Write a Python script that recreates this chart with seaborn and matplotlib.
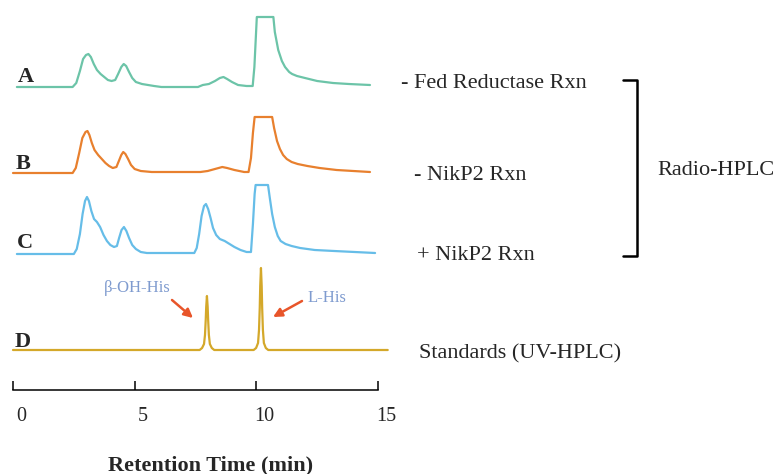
import numpy as np
import pandas as pd
import matplotlib
matplotlib.use('Agg')
import matplotlib.pyplot as plt
import matplotlib.transforms as mtransforms
import seaborn as sns

# retention time (min) and signal (arbitrary units)
time_a = [0.16, 2.45, 2.60, 2.75, 2.88, 3.00, 3.10, 3.20, 3.32, 3.45, 3.60, 3.75, 3.90, 4.05, 4.20,
          4.32, 4.45, 4.55, 4.65, 4.77, 4.90, 5.05, 5.30, 5.80, 6.10, 7.60, 7.80, 8.05, 8.30,
          8.50, 8.65, 8.80, 9.00, 9.25, 9.60, 9.85, 9.92, 9.98, 10.02, 10.70, 10.76, 10.90,
          11.05, 11.18, 11.35, 11.47, 11.67, 12.00, 12.50, 13.15, 13.80, 14.67]
sig_a = [0, 0, 4, 16, 28, 32, 33, 30, 23, 17, 13, 10, 7, 6, 7,
         13, 20, 23, 21, 15, 9, 5, 3, 1, 0, 0, 2, 3, 6,
         9, 10, 8, 5, 2, 1, 1, 20, 50, 70, 70, 55, 37,
         26, 20, 15, 13, 11, 9, 6, 4, 3, 2]

time_b = [0.0, 2.45, 2.58, 2.72, 2.85, 2.98, 3.06, 3.14, 3.24, 3.35, 3.50, 3.65, 3.80, 3.95, 4.10,
          4.25, 4.35, 4.45, 4.53, 4.62, 4.73, 4.85, 5.00, 5.25, 5.70, 7.70, 8.00, 8.30, 8.60,
          8.80, 9.10, 9.50, 9.68, 9.78, 9.86, 9.93, 10.65, 10.73, 10.85, 10.97, 11.10, 11.25,
          11.45, 11.70, 12.10, 12.60, 13.30, 14.67]
sig_b = [0, 0, 5, 20, 35, 41, 42, 38, 30, 23, 18, 14, 10, 7, 5,
         6, 12, 18, 21, 19, 14, 8, 4, 2, 1, 1, 2, 4, 6,
         5, 3, 1, 1, 15, 40, 56, 56, 45, 32, 24, 18, 14,
         11, 9, 7, 5, 3, 1]

time_c = [0.16, 2.50, 2.62, 2.75, 2.86, 2.96, 3.04, 3.12, 3.22, 3.33, 3.45, 3.58, 3.72, 3.86, 4.00,
          4.15, 4.27, 4.36, 4.46, 4.56, 4.66, 4.77, 4.90, 5.05, 5.25, 5.50, 7.45, 7.55, 7.65,
          7.75, 7.85, 7.93, 8.02, 8.12, 8.22, 8.35, 8.50, 8.70, 8.90, 9.10, 9.35, 9.60, 9.78,
          9.86, 9.93, 9.97, 10.48, 10.56, 10.65, 10.76, 10.88, 11.00, 11.20, 11.45, 11.80,
          12.40, 13.20, 14.88]
sig_c = [0, 0, 5, 20, 40, 53, 57, 53, 43, 35, 32, 27, 19, 13, 9,
         7, 8, 16, 24, 27, 23, 16, 9, 5, 2, 1, 1, 6, 20,
         38, 48, 50, 45, 36, 26, 19, 15, 13, 10, 7, 4, 2, 2,
         30, 60, 69, 69, 55, 40, 27, 18, 13, 10, 8, 6,
         4, 3, 1]

time_d = [0.0, 7.67, 7.77, 7.85, 7.89, 7.92, 7.94, 7.97, 8.00, 8.02, 8.05, 8.09, 8.17, 8.27,
          9.89, 9.99, 10.07, 10.11, 10.14, 10.16, 10.19, 10.22, 10.24, 10.27, 10.31, 10.39,
          10.49, 15.40]
sig_d = [0, 0, 2, 6, 15, 30, 43, 54, 43, 30, 15, 6, 2, 0,
         0, 2, 7, 20, 42, 64, 82, 64, 42, 20, 7, 2,
         0, 0]

letters = ['A', 'B', 'C', 'D']
conditions = ['- Fed Reductase Rxn', '- NikP2 Rxn', '+ NikP2 Rxn', 'Standards (UV-HPLC)']
colors = ['#6cc4a8', '#e8802e', '#66bde8', '#d4a82a']
xticks = [0, 5, 10, 15]

W, H = 777, 474


def fig_xy(x, y):
    # pixel position -> figure fraction
    return x / W, 1 - y / H


fig = plt.figure(figsize=(7.77, 4.74), dpi=100)
sns.set_style('white')
plt.rcParams['font.family'] = ['Liberation Serif', 'DejaVu Serif']

ax = fig.add_axes([13 / W, (H - 390) / H, 365 / W, 390 / H])

traces = [(time_a, sig_a), (time_b, sig_b), (time_c, sig_c), (time_d, sig_d)]
baselines = [303, 217, 136, 40]
for (t, s), base, col in zip(traces, baselines, colors):
    df = pd.DataFrame({'time': t, 'signal': np.array(s) + base})
    sns.lineplot(data=df, x='time', y='signal', color=col, lw=1.6, sort=False,
                 estimator=None, ax=ax, clip_on=False)

ax.set_xlim(0, 15)
ax.set_ylim(0, 390)
ax.set_yticks([])
ax.set_xticks(xticks)
ax.set_xticklabels([str(v) for v in xticks], fontsize=14.5)
ax.tick_params(axis='x', direction='in', length=6.5, width=1.1, color='black', pad=12, bottom=True)
offset = mtransforms.ScaledTranslation(8 / 100, 0, fig.dpi_scale_trans)
for lab in ax.get_xticklabels():
    lab.set_transform(lab.get_transform() + offset)
for side in ['top', 'right', 'left']:
    ax.spines[side].set_visible(False)
ax.spines['bottom'].set_linewidth(1.1)
ax.spines['bottom'].set_color('black')
ax.set_xlabel('')
ax.set_ylabel('')

fig.text(*fig_xy(211, 465), 'Retention Time (min)', fontsize=16, fontweight='bold',
         ha='center', va='center')

letter_pos = [(26, 77), (23, 164), (25, 243), (23, 342)]
for lt, (x, y) in zip(letters, letter_pos):
    fig.text(*fig_xy(x, y), lt, fontsize=16, fontweight='bold', ha='center', va='center')

cond_pos = [(401, 84), (414, 175), (417, 255), (419, 354)]
for txt, (x, y) in zip(conditions, cond_pos):
    fig.text(*fig_xy(x, y), txt, fontsize=16, ha='left', va='center')

# bracket for the radio-HPLC traces
bx = [623, 637, 637, 623]
by = [80, 80, 256, 256]
fx, fy = zip(*[fig_xy(x, y) for x, y in zip(bx, by)])
fig.add_artist(plt.Line2D(fx, fy, color='black', lw=1.8, transform=fig.transFigure))
fig.text(*fig_xy(657, 170), 'Radio-HPLC', fontsize=16, ha='left', va='center')

# standard peak labels
lab_col = '#7f9bcf'
arrow_col = '#e8552a'
fig.text(*fig_xy(137, 288), 'β-OH-His', fontsize=12, color=lab_col, ha='center', va='center')
fig.text(*fig_xy(327, 298), 'L-His', fontsize=12, color=lab_col, ha='center', va='center')
for (x0, y0), (x1, y1) in [((172, 300), (193, 318)), ((302, 301), (273, 317))]:
    ax.annotate('', xy=fig_xy(x1, y1), xytext=fig_xy(x0, y0), xycoords='figure fraction',
                textcoords='figure fraction',
                arrowprops=dict(arrowstyle='-|>', color=arrow_col, lw=1.8,
                                mutation_scale=13, shrinkA=0, shrinkB=0))

fig.savefig('out.png', dpi=100)
